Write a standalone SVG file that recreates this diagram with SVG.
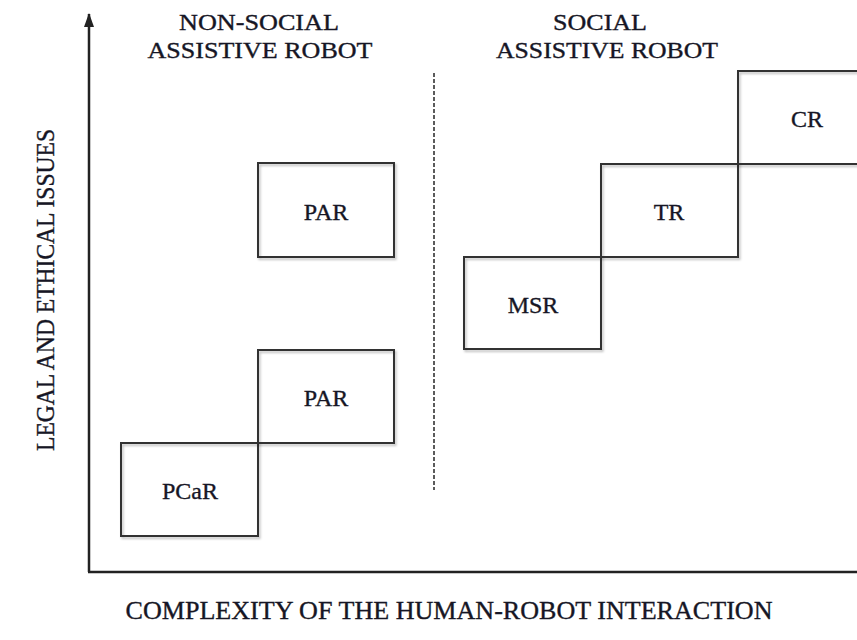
<svg xmlns="http://www.w3.org/2000/svg" width="857" height="640" viewBox="0 0 857 640">
  <defs>
    <filter id="sh" x="-10%" y="-10%" width="130%" height="130%">
      <feDropShadow dx="1.5" dy="2" stdDeviation="1.2" flood-color="#000" flood-opacity="0.25"/>
    </filter>
    <marker id="arr" viewBox="0 0 14 10" refX="13" refY="5" markerWidth="14" markerHeight="10" markerUnits="userSpaceOnUse" orient="auto">
      <path d="M0,0 L14,5 L0,10 Z" fill="#222"/>
    </marker>
  </defs>
  <style>
    text { font-family: "Liberation Serif", "Times New Roman", serif; fill: #161625; stroke: #161625; stroke-width: 0.35; }
    .hdr { font-size: 23px; text-anchor: middle; }
    .xlab { font-size: 25px; text-anchor: middle; }
    .ylab { font-size: 25px; text-anchor: middle; }
    .lbl { font-size: 24px; text-anchor: middle; }
    .box { fill: none; stroke: #333; stroke-width: 2; filter: url(#sh); }
    .axis { stroke: #222; stroke-width: 2.5; fill: none; }
    .div { stroke: #333; stroke-width: 1.6; stroke-dasharray: 4 2; fill: none; }
  </style>
  <rect width="857" height="640" fill="#fff"/>

  <g id="connectors">
    <line class="axis" x1="89" y1="572" x2="89" y2="14" marker-end="url(#arr)"/>
    <line class="axis" x1="88" y1="572" x2="857" y2="572"/>
    <line class="div" x1="434" y1="73" x2="434" y2="490"/>
  </g>

  <g id="header-nonsocial">
    <text class="hdr" x="259" y="30" textLength="160" lengthAdjust="spacingAndGlyphs">NON-SOCIAL</text>
    <text class="hdr" x="260" y="58" textLength="225" lengthAdjust="spacingAndGlyphs">ASSISTIVE ROBOT</text>
  </g>
  <g id="header-social">
    <text class="hdr" x="600" y="30" textLength="94" lengthAdjust="spacingAndGlyphs">SOCIAL</text>
    <text class="hdr" x="607" y="58" textLength="222" lengthAdjust="spacingAndGlyphs">ASSISTIVE ROBOT</text>
  </g>

  <g id="axis-y-label">
    <text class="ylab" transform="translate(54,290) rotate(-90)" textLength="322" lengthAdjust="spacingAndGlyphs">LEGAL AND ETHICAL ISSUES</text>
  </g>
  <g id="axis-x-label">
    <text class="xlab" x="449" y="619" textLength="647" lengthAdjust="spacingAndGlyphs">COMPLEXITY OF THE HUMAN-ROBOT INTERACTION</text>
  </g>

  <g id="node-pcar">
    <rect class="box" x="121" y="443" width="137" height="93"/>
    <text class="lbl" x="190" y="499">PCaR</text>
  </g>
  <g id="node-par-low">
    <rect class="box" x="258" y="350" width="136" height="93"/>
    <text class="lbl" x="326" y="406">PAR</text>
  </g>
  <g id="node-par-high">
    <rect class="box" x="258" y="163" width="136" height="94"/>
    <text class="lbl" x="326" y="220">PAR</text>
  </g>
  <g id="node-msr">
    <rect class="box" x="464" y="257" width="137" height="92"/>
    <text class="lbl" x="533" y="313">MSR</text>
  </g>
  <g id="node-tr">
    <rect class="box" x="601" y="164" width="137" height="93"/>
    <text class="lbl" x="669" y="220">TR</text>
  </g>
  <g id="node-cr">
    <rect class="box" x="738" y="71" width="140" height="93"/>
    <text class="lbl" x="807" y="127">CR</text>
  </g>
</svg>
